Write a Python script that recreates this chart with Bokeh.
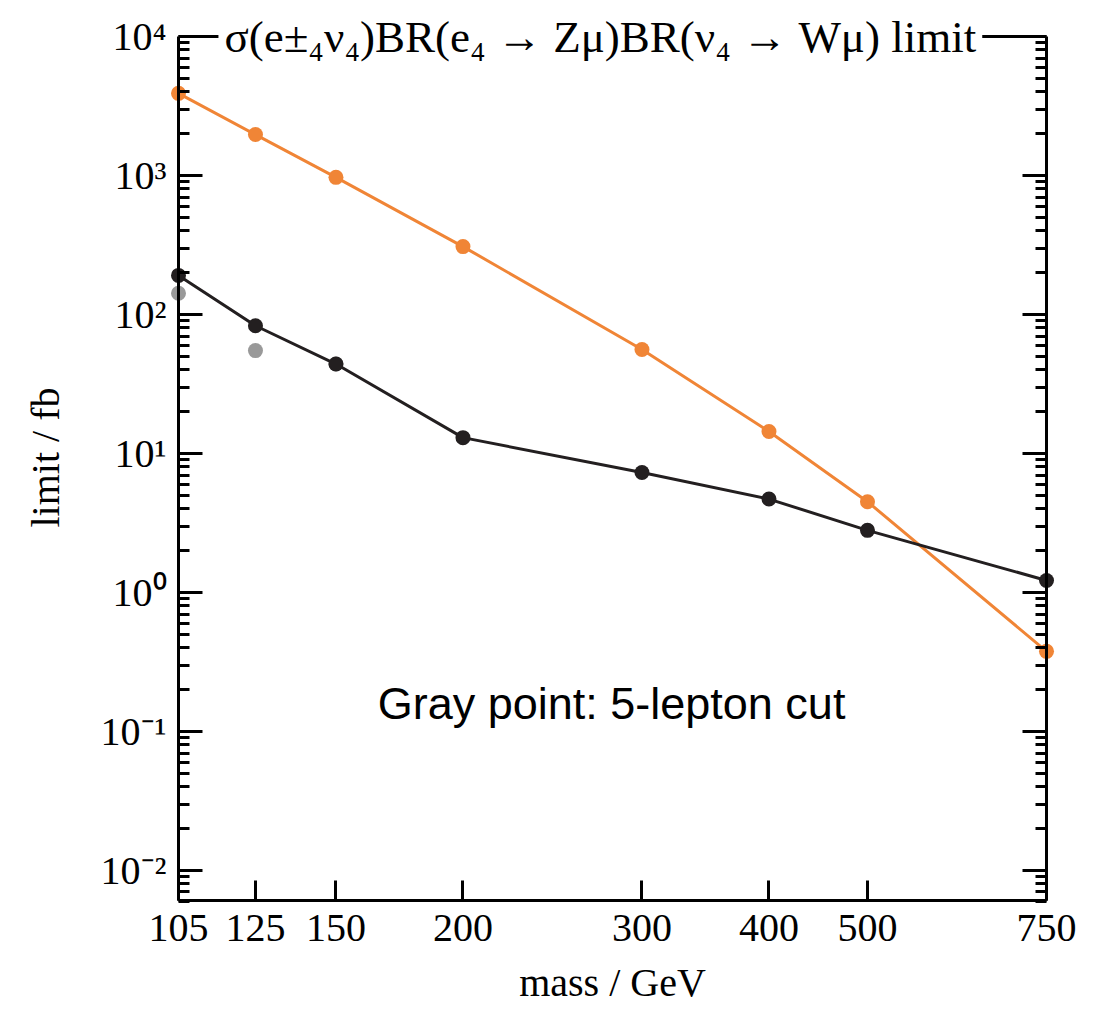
import math
from bokeh.plotting import figure
from bokeh.models import FixedTicker, LogAxis, Label, CustomJSTickFormatter, Range1d
from bokeh.embed import file_html
from bokeh.resources import INLINE

# ---- data ----
masses = [105, 125, 150, 200, 300, 400, 500, 750]
orange_limit = [3900, 1970, 970, 308, 56, 14.4, 4.5, 0.377]
black_limit = [191, 83, 44, 13.0, 7.3, 4.7, 2.8, 1.22]
gray_mass = [105, 125, 150]
gray_limit = [142, 55, 44]
x_ticks = [105, 125, 150, 200, 300, 400, 500, 750]
y_exponents = [-2, -1, 0, 1, 2, 3, 4]

title_text = "σ(e±₄ν₄)BR(e₄ → Zμ)BR(ν₄ → Wμ) limit"
note_text = "Gray point: 5-lepton cut"

ORANGE = "#F08536"
BLACK = "#231F20"
GRAY = "#999999"
SERIF = "Liberation Serif"

# axis extents (the drawn box) and padding of the plotting frame around it
X_LO, X_HI = 105.0, 750.0
Y_LO, Y_HI = 0.00608, 1e4
BOX_W, BOX_H = 868.0, 864.0
PAD_X, PAD_B, PAD_T = 10.0, 10.0, 32.0

dx = (math.log10(X_HI) - math.log10(X_LO)) / BOX_W
dy = (math.log10(Y_HI) - math.log10(Y_LO)) / BOX_H
x_range = Range1d(10 ** (math.log10(X_LO) - PAD_X * dx), 10 ** (math.log10(X_HI) + PAD_X * dx))
y_range = Range1d(10 ** (math.log10(Y_LO) - PAD_B * dy), 10 ** (math.log10(Y_HI) + PAD_T * dy))

y_major = [10.0 ** e for e in y_exponents]
y_minor = [k * 10.0 ** e for e in range(-3, 4) for k in range(2, 10)]

p = figure(width=1094, height=1009, x_axis_type="log", y_axis_type="log",
           x_range=x_range, y_range=y_range,
           x_axis_location=None, y_axis_location=None,
           output_backend="svg", toolbar_location=None,
           min_border_left=168, min_border_right=38, min_border_top=4,
           min_border_bottom=99)
p.grid.visible = False
p.outline_line_color = None
p.background_fill_color = "white"
p.border_fill_color = "white"

sup_fmt = CustomJSTickFormatter(code="""
const e = Math.round(Math.log10(tick));
const m = {"-":"\u207B","0":"\u2070","1":"\u00B9","2":"\u00B2","3":"\u00B3","4":"\u2074",
           "5":"\u2075","6":"\u2076","7":"\u2077","8":"\u2078","9":"\u2079"};
return "10" + String(e).split("").map(c => m[c]).join("");
""")
blank_fmt = CustomJSTickFormatter(code="return '';")

# ---- label-only axes at the frame edges ----
hidden = dict(axis_line_color=None, major_tick_line_color=None, minor_tick_line_color=None,
              major_tick_out=0, major_tick_in=0, minor_tick_out=0, minor_tick_in=0,
              major_label_text_color="black", axis_label_text_color="black",
              axis_label_text_font=SERIF, axis_label_text_font_style="normal",
              axis_label_text_font_size="40px",
              major_label_text_font=SERIF, major_label_text_font_size="40px")

yl = LogAxis(ticker=FixedTicker(ticks=y_major, minor_ticks=[]), formatter=sup_fmt,
             axis_label="limit / fb", axis_label_standoff=30, major_label_standoff=2,
             **hidden)
p.add_layout(yl, "left")

xl = LogAxis(ticker=FixedTicker(ticks=x_ticks, minor_ticks=[]),
             formatter=CustomJSTickFormatter(code="return String(Math.round(tick));"),
             axis_label="mass / GeV", axis_label_standoff=16, major_label_standoff=4,
             **hidden)
p.add_layout(xl, "below")

# ---- box lines and inward ticks at fixed positions ----
common = dict(axis_line_width=3, axis_line_color="black",
              major_tick_line_width=3, minor_tick_line_width=3,
              major_tick_line_color="black", minor_tick_line_color="black",
              major_tick_out=0, minor_tick_out=0, formatter=blank_fmt,
              major_label_text_font_size="1px", major_label_standoff=0)

ya = LogAxis(ticker=FixedTicker(ticks=y_major, minor_ticks=y_minor),
             fixed_location=X_LO, bounds=(Y_LO, Y_HI),
             major_tick_in=24, minor_tick_in=11, **common)
p.add_layout(ya, "left")

ra = LogAxis(ticker=FixedTicker(ticks=y_major, minor_ticks=y_minor),
             fixed_location=X_HI, bounds=(Y_LO, Y_HI),
             major_tick_in=24, minor_tick_in=11, **common)
p.add_layout(ra, "right")

xa = LogAxis(ticker=FixedTicker(ticks=x_ticks, minor_ticks=[]),
             fixed_location=Y_LO, bounds=(X_LO, X_HI),
             major_tick_in=20, minor_tick_in=0, **common)
p.add_layout(xa, "below")

ta = LogAxis(ticker=FixedTicker(ticks=[], minor_ticks=[]),
             fixed_location=Y_HI, bounds=(X_LO, X_HI),
             major_tick_in=0, minor_tick_in=0, **common)
p.add_layout(ta, "above")

# ---- data ----
p.scatter(gray_mass, gray_limit, size=15, color=GRAY, line_color=None)
p.line(masses, orange_limit, line_color=ORANGE, line_width=3)
p.scatter(masses, orange_limit, size=15, color=ORANGE, line_color=None)
p.line(masses, black_limit, line_color=BLACK, line_width=3)
p.scatter(masses, black_limit, size=15, color=BLACK, line_color=None)

title = Label(x=273, y=Y_HI, text=title_text, text_align="center", text_baseline="middle",
              text_font=SERIF, text_font_size="45px", text_color="black",
              background_fill_color="white", padding=6)
p.add_layout(title)

note = Label(x=280, y=0.16, text=note_text, text_align="center", text_baseline="middle",
             text_font="Liberation Sans", text_font_size="45px", text_color="black")
p.add_layout(note)

open("out.html", "w").write(file_html(p, INLINE))
